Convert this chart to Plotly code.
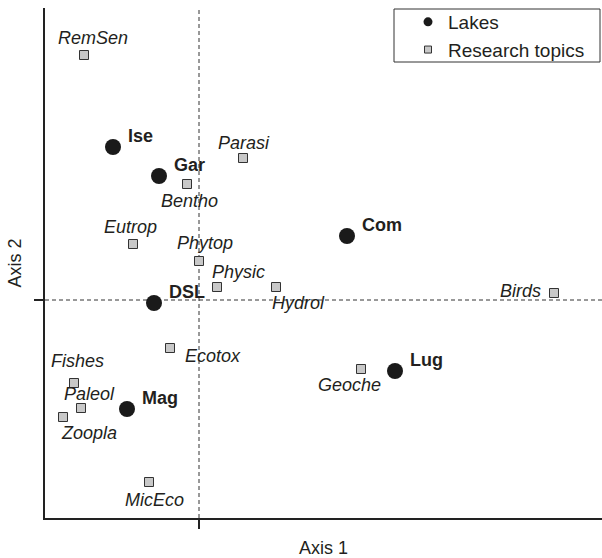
import plotly.graph_objects as go

# ---- data (ordination scores) ----
lake_names = ["Ise", "Gar", "Com", "DSL", "Mag", "Lug"]
lake_ax1 = [-0.86, -0.40, 1.48, -0.45, -0.72, 1.96]
lake_ax2 = [1.53, 1.24, 0.64, -0.03, -1.09, -0.71]

topic_names = ["RemSen", "Parasi", "Bentho", "Eutrop", "Phytop", "Physic", "Hydrol",
               "Birds", "Ecotox", "Fishes", "Paleol", "Zoopla", "Geoche", "MicEco"]
topic_ax1 = [-1.15, 0.44, -0.12, -0.66, 0.00, 0.18, 0.77,
             3.55, -0.29, -1.25, -1.18, -1.36, 1.62, -0.50]
topic_ax2 = [2.45, 1.42, 1.16, 0.56, 0.39, 0.13, 0.13,
             0.07, -0.48, -0.83, -1.08, -1.17, -0.69, -1.82]

# ---- label placement (styling, pixel offsets: dx, dy-down, anchor) ----
topic_label_style = {
    "RemSen": (9, -17, "center"),
    "Parasi": (1, -15, "center"),
    "Bentho": (2, 17, "center"),
    "Eutrop": (-3, -17, "center"),
    "Phytop": (6, -18, "center"),
    "Physic": (21, -15, "center"),
    "Hydrol": (22, 16, "center"),
    "Birds": (-11, -2, "right"),
    "Ecotox": (13, 8, "left"),
    "Fishes": (3, -22, "center"),
    "Paleol": (8, -14, "center"),
    "Zoopla": (26, 16, "center"),
    "Geoche": (-12, 16, "center"),
    "MicEco": (5, 18, "center"),
}

FONT = "Liberation Sans, Arial, Helvetica, sans-serif"
TXT = "#231f20"

fig = go.Figure()

# main marks
fig.add_trace(go.Scatter(
    x=topic_ax1, y=topic_ax2, mode="markers", showlegend=False,
    marker=dict(symbol="square", size=9, color="#c8c8c8",
                line=dict(color="#333333", width=1)),
    hoverinfo="text", text=topic_names))
fig.add_trace(go.Scatter(
    x=lake_ax1, y=lake_ax2, mode="markers", showlegend=False,
    marker=dict(symbol="circle", size=16, color="#1a1a1a", line=dict(width=0)),
    hoverinfo="text", text=lake_names))

# legend entries (smaller symbols, as in the reference)
fig.add_trace(go.Scatter(
    x=[None], y=[None], mode="markers", name="Lakes",
    marker=dict(symbol="circle", size=9, color="#1a1a1a", line=dict(width=0))))
fig.add_trace(go.Scatter(
    x=[None], y=[None], mode="markers", name="Research topics",
    marker=dict(symbol="square", size=7, color="#c8c8c8",
                line=dict(color="#333333", width=1))))

annotations = []
for n, x, y in zip(lake_names, lake_ax1, lake_ax2):
    annotations.append(dict(
        x=x, y=y, text="<b>%s</b>" % n, showarrow=False,
        xanchor="left", yanchor="middle", xshift=13, yshift=11,
        font=dict(family=FONT, size=18, color=TXT)))
for n, x, y in zip(topic_names, topic_ax1, topic_ax2):
    dx, dy, anc = topic_label_style[n]
    annotations.append(dict(
        x=x, y=y, text="<i>%s</i>" % n, showarrow=False,
        xanchor=anc, yanchor="middle", xshift=dx, yshift=-dy,
        font=dict(family=FONT, size=18, color=TXT)))

shapes = [
    dict(type="line", xref="x", yref="paper", x0=0, x1=0, y0=0, y1=1,
         line=dict(color="#333333", width=1, dash="4px,3px"), layer="below"),
    dict(type="line", xref="paper", yref="y", x0=0, x1=1, y0=0, y1=0,
         line=dict(color="#333333", width=1, dash="4px,3px"), layer="below"),
    # legend frame
    dict(type="rect", xref="paper", yref="paper",
         x0=(394 - 45) / 557, x1=(600 - 45) / 557,
         y0=(518 - 62) / 510, y1=(518 - 9) / 510,
         line=dict(color="#333333", width=1), fillcolor="rgba(0,0,0,0)"),
]

fig.update_layout(
    width=602, height=558,
    margin=dict(l=45, r=0, t=8, b=40, autoexpand=False),
    paper_bgcolor="white", plot_bgcolor="white",
    font=dict(family=FONT, size=18, color=TXT),
    annotations=annotations, shapes=shapes,
    legend=dict(x=(408 - 45) / 557, y=(518 - 3) / 510, xanchor="left", yanchor="top",
                bgcolor="rgba(0,0,0,0)", borderwidth=0,
                font=dict(family=FONT, size=19, color=TXT),
                tracegroupgap=0),
    showlegend=True,
)
fig.update_xaxes(range=[-1.54, 4.03], showgrid=False, zeroline=False,
                 showline=True, linecolor="#222222", linewidth=2,
                 tickvals=[0], ticks="outside", ticklen=9, tickwidth=2,
                 tickcolor="#222222", showticklabels=False,
                 title=dict(text="Axis 1", font=dict(family=FONT, size=18, color=TXT),
                            standoff=14))
fig.update_yaxes(range=[-2.18, 2.92], showgrid=False, zeroline=False,
                 showline=True, linecolor="#222222", linewidth=2,
                 tickvals=[0], ticks="outside", ticklen=9, tickwidth=2,
                 tickcolor="#222222", showticklabels=False,
                 title=dict(text="Axis 2", font=dict(family=FONT, size=18, color=TXT),
                            standoff=8))

fig.write_html("out.html", config={"displayModeBar": False},
               post_script="document.body.style.margin='0px';")
